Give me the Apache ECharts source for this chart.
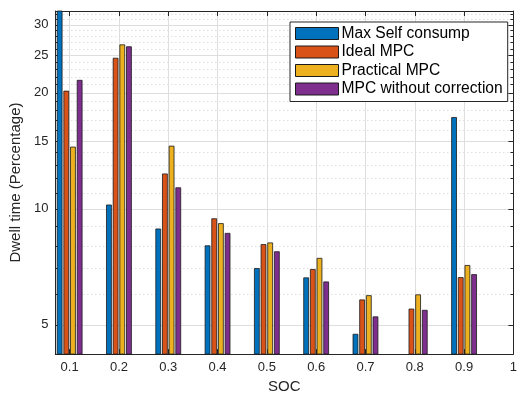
<!DOCTYPE html>
<html>
<head>
<meta charset="utf-8">
<script src="https://cdn.jsdelivr.net/npm/echarts@6/dist/echarts.min.js"></script>
<style>html,body{margin:0;padding:0;background:#fff;}#c{width:520px;height:399px;}</style>
</head>
<body>
<div id="c"></div>
<script>
// SOC categories (x positions)
const soc = [0.1, 0.2, 0.3, 0.4, 0.5, 0.6, 0.7, 0.8, 0.9];
const xTicks = [0.1, 0.2, 0.3, 0.4, 0.5, 0.6, 0.7, 0.8, 0.9, 1];
// Dwell time (%) per series
const maxSelf   = [34.0, 10.26, 8.89, 8.04, 7.02, 6.64, 4.74, null, 17.3];
const idealMPC  = [20.25, 24.65, 12.35, 9.45, 8.10, 6.98, 5.82, 5.51, 6.65];
const practMPC  = [14.5, 26.7, 14.58, 9.18, 8.18, 7.46, 5.97, 6.00, 7.15];
const noCorrMPC = [21.6, 26.4, 11.37, 8.66, 7.76, 6.48, 5.26, 5.47, 6.77];
const seriesNames = ['Max Self consump', 'Ideal MPC', 'Practical MPC', 'MPC without correction'];
const yMajor = [5, 10, 15, 20, 25, 30];
const yMinor = [6, 7, 8, 9, 11, 12, 13, 14, 16, 17, 18, 19, 21, 22, 23, 24, 26, 27, 28, 29, 31, 32];
const yMin = 4.2, yMax = 32.6;
const xMin = 0.07103, xMax = 1.0;

const colors = ['#0072BD', '#D95319', '#EDB120', '#7E2F8E'];
const L = v => Math.log10(v);
const font = '"Liberation Sans", Arial, Helvetica, sans-serif';
const axisColor = '#262626';

const allData = [maxSelf, idealMPC, practMPC, noCorrMPC];
const series = allData.map((arr, i) => ({
  name: seriesNames[i],
  type: 'bar',
  xAxisIndex: 0,
  yAxisIndex: 0,
  barWidth: 5.7,
  barGap: '17%',
  clip: true,
  itemStyle: { color: colors[i], borderColor: '#1a1a1a', borderWidth: 0.8 },
  data: soc.map((x, j) => [x, arr[j] == null ? null : L(arr[j])])
}));

const chart = echarts.init(document.getElementById('c'), null, { renderer: 'canvas' });

function yAxisDef(pos, values, len, showLine, split, labels) {
  return {
    type: 'value', position: pos, min: L(yMin), max: L(yMax),
    axisLine: { show: showLine, lineStyle: { color: axisColor, width: 1 } },
    axisTick: { show: true, inside: true, length: len, customValues: values.map(L), lineStyle: { color: axisColor, width: 1 } },
    axisLabel: labels ? {
      show: true, customValues: values.map(L), margin: 7, color: axisColor, fontSize: 13, fontFamily: font,
      formatter: v => String(Math.round(Math.pow(10, v)))
    } : { show: false },
    splitLine: split ? { show: true, lineStyle: split } : { show: false }
  };
}

const option = {
  animation: false,
  backgroundColor: '#fff',
  textStyle: { fontFamily: font },
  grid: { left: 53, right: 2, top: 11, bottom: 38, containLabel: false },
  legend: {
    orient: 'vertical', left: 290, top: 22,
    padding: [3.5, 5, 4.5, 5],
    itemWidth: 43, itemHeight: 12, itemGap: 2.5,
    backgroundColor: '#fff', borderColor: axisColor, borderWidth: 1,
    textStyle: { fontSize: 15.6, fontFamily: font, color: '#000', padding: [0, 0, 0, -2], lineHeight: 15 },
    icon: 'rect',
    itemStyle: { borderColor: '#1a1a1a', borderWidth: 1 },
    data: seriesNames
  },
  xAxis: [
    {
      type: 'value', position: 'bottom', min: xMin, max: xMax,
      name: 'SOC', nameLocation: 'middle', nameGap: 20,
      nameTextStyle: { fontSize: 15, color: axisColor, fontFamily: font },
      axisLine: { show: true, onZero: false, lineStyle: { color: axisColor, width: 1 } },
      axisTick: { show: true, inside: true, length: 5, customValues: xTicks, lineStyle: { color: axisColor } },
      axisLabel: { show: true, customValues: xTicks, margin: 7, fontSize: 13, color: axisColor, fontFamily: font, formatter: v => String(v) },
      splitLine: { show: true, lineStyle: { color: '#dedede', width: 1 } }
    },
    {
      type: 'value', position: 'top', min: xMin, max: xMax,
      axisLine: { show: true, onZero: false, lineStyle: { color: axisColor, width: 1 } },
      axisTick: { show: true, inside: true, length: 5, customValues: xTicks, lineStyle: { color: axisColor } },
      axisLabel: { show: false },
      splitLine: { show: false }
    }
  ],
  yAxis: [
    Object.assign(yAxisDef('left', yMajor, 5, true, { color: '#dedede', width: 1 }, true), {
      name: 'Dwell time (Percentage)', nameLocation: 'middle', nameGap: 28,
      nameTextStyle: { fontSize: 15, color: axisColor, fontFamily: font }
    }),
    yAxisDef('left', yMinor, 3, false, { color: '#cfcfcf', width: 1, type: [1, 3] }, false),
    yAxisDef('right', yMajor, 5, true, null, false),
    yAxisDef('right', yMinor, 3, false, null, false)
  ],
  series: series
};
chart.setOption(option);
</script>
</body>
</html>
